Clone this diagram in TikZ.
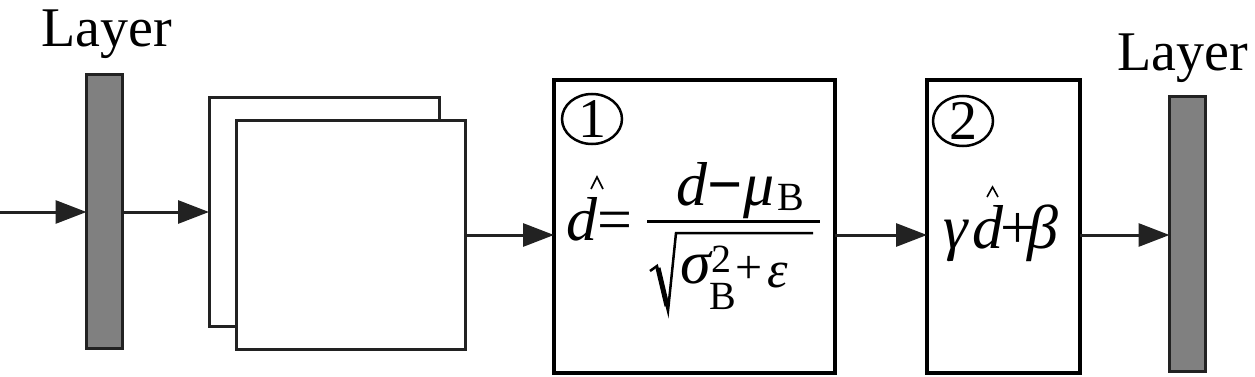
\documentclass[tikz,border=0pt]{standalone}
\usepackage{fontspec}
\setmainfont{Liberation Serif}
\usetikzlibrary{arrows.meta,shapes.geometric}
\definecolor{ink}{HTML}{222222}
\definecolor{barfill}{HTML}{808080}
\begin{document}
\begin{tikzpicture}[x=1pt,y=-1pt,
  layerbar/.style={draw=ink, fill=barfill, line width=3pt, minimum width=36pt, inner sep=0pt, outer sep=0pt},
  sheet/.style={draw=ink, fill=white, line width=3pt, inner sep=0pt, outer sep=0pt},
  opbox/.style={draw=black, line width=4pt, inner sep=0pt, outer sep=0pt, minimum height=293pt},
  arr/.style={draw=ink, line width=3pt, -{Triangle[length=31pt,width=23pt]}},
  lbl/.style={font=\fontsize{56}{60}\selectfont, anchor=base, inner sep=0pt},
  circ/.style={ellipse, draw=black, line width=2.5pt, minimum width=60pt, minimum height=50pt, inner sep=0pt},
  digit/.style={font=\fontsize{56}{60}\selectfont, inner sep=0pt},
  mbig/.style={font=\fontsize{62}{62}\selectfont\itshape, anchor=base west, inner sep=0pt},
  mupr/.style={font=\fontsize{62}{62}\selectfont, anchor=base west, inner sep=0pt},
  msmall/.style={font=\fontsize{40}{40}\selectfont, anchor=base west, inner sep=0pt},
  msmallit/.style={font=\fontsize{52}{52}\selectfont\itshape, anchor=base west, inner sep=0pt},
  glyph/.style={draw=black, line width=1.6pt}
]
\fill[white] (0,0) rectangle (1255,377);
\useasboundingbox (0,0) rectangle (1255,377);

% layers
\node[layerbar, minimum height=274pt] (lbar) at (104.5,211.5) {};
\node[layerbar, minimum height=275pt] (rbar) at (1187.5,234) {};
\node[lbl] (llbl) at (107,47) {Layer};
\node[lbl] (rlbl) at (1183,71) {Layer};

% stacked sheets
\node[sheet, minimum width=230pt, minimum height=228pt] (back) at (324,212) {};
\node[sheet, minimum width=229pt, minimum height=228pt] (front) at (350.5,235) {};

% operation boxes
\node[opbox, minimum width=281pt] (box1) at (694.5,226.5) {};
\node[opbox, minimum width=153pt] (box2) at (1003.5,226.5) {};

\node[circ] (c1) at (592,119) {};
\node[digit] (n1) at (c1.center) {1};
\node[circ] (c2) at (963,121) {};
\node[digit] (n2) at (c2.center) {2};

% formula 1
\node[mbig] (dh) at (566,240) {d};
\draw[glyph] (591,189) -- (597,177) -- (603,189);
\node[mupr] (eq) at (597,240) {=};
\draw[black, line width=3.5pt] (647,221.5) -- (820,221.5);
\node[mbig] (nd) at (676,205) {d};
\node[font=\fontsize{62}{62}\selectfont\bfseries, anchor=base west, inner sep=0pt] (nm) at (707,205) {−};
\node[mbig] (mu) at (743,205) {μ};
\node[msmall] (nb) at (777,210) {B};
\draw[black, line width=2.5pt, line join=miter] (650,271) -- (657,266) -- (668,311) -- (676,233) -- (813,233);
\draw[black, line width=5pt] (658,268) -- (667,306);
\node[mbig] (sg) at (680,283) {σ};
\node[msmall] (two) at (711,272) {2};
\node[msmall] (db) at (709,309) {B};
\node[font=\fontsize{48}{48}\selectfont, anchor=base west, inner sep=0pt] (pl) at (735,283) {+};
\node[msmallit] (eps) at (767,287) {ε};

% formula 2
\node[mbig] (ga) at (943,248) {γ};
\node[mbig] (d2) at (972,248) {d};
\draw[glyph] (987,197) -- (992.5,187) -- (998,197);
\node[mupr] (p2) at (1000,248) {+};
\node[mbig] (be) at (1027,248) {β};

% connectors
\coordinate (src) at (0,212);
\draw[arr] (src) -- (lbar.west |- src);
\draw[arr] (lbar.east |- src) -- (back.west);
\draw[arr] (front.east) -- (front.east -| box1.west);
\draw[arr] (box1.east |- front.east) -- (front.east -| box2.west);
\draw[arr] (box2.east |- front.east) -- (front.east -| rbar.west);
\end{tikzpicture}
\end{document}
